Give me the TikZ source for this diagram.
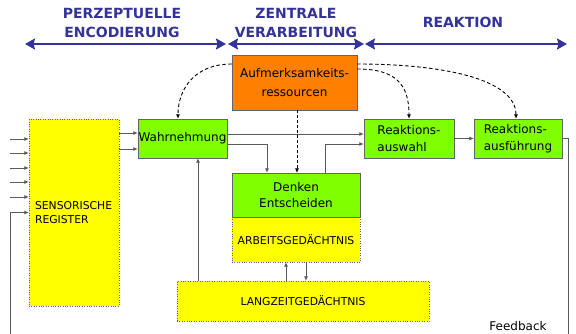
\documentclass[tikz,border=0pt]{standalone}
\usepackage{fontspec}
\setmainfont{DejaVu Sans}
\usetikzlibrary{arrows.meta}
\definecolor{hdrblue}{RGB}{51,51,153}
\definecolor{boxyellow}{RGB}{255,255,0}
\definecolor{boxgreen}{RGB}{128,255,0}
\definecolor{boxorange}{RGB}{255,128,0}
\definecolor{wire}{RGB}{90,90,90}
\definecolor{rim}{RGB}{100,100,100}
\tikzset{
  hdrtext/.style={text=hdrblue, font=\fontsize{14}{19}\selectfont\bfseries, align=center, inner sep=0},
  hdrarrow/.style={draw=hdrblue, line width=2.8pt, {Stealth[length=10pt,width=11pt,inset=1.5pt]}-{Stealth[length=10pt,width=11pt,inset=1.5pt]}},
  memorybox/.style={draw=rim, dotted, fill=boxyellow, inner sep=0, font=\fontsize{10.8}{13.5}\selectfont},
  stagebox/.style={draw=rim, fill=boxgreen, inner sep=0, font=\fontsize{12}{16.5}\selectfont, align=center},
  resbox/.style={draw=rim, fill=boxorange, inner sep=0, font=\fontsize{12}{19}\selectfont, align=center},
  wireline/.style={draw=wire, line width=0.8pt},
  wirearrow/.style={wireline, -{Latex[length=4.5pt,width=4pt]}},
  ctrlarrow/.style={draw=black, line width=0.9pt, dash pattern=on 3.5pt off 2.5pt, -{Latex[length=4.5pt,width=4pt]}}
}
\begin{document}
\begin{tikzpicture}[x=1pt, y=-1pt]
\useasboundingbox (0,0) rectangle (576,334);

% phase headers
\node[hdrtext] (hdrA) at (122,22.5) {PERZEPTUELLE\\ENCODIERUNG};
\node[hdrtext] (hdrB) at (296,22.5) {ZENTRALE\\VERARBEITUNG};
\node[hdrtext] (hdrC) at (463,22.5) {REAKTION};
\coordinate (pA1) at (25,44);  \coordinate (pA2) at (226,44);
\coordinate (pB1) at (228,44); \coordinate (pB2) at (364,44);
\coordinate (pC1) at (365,44); \coordinate (pC2) at (567,44);
\draw[hdrarrow] (pA1) -- (pA2);
\draw[hdrarrow] (pB1) -- (pB2);
\draw[hdrarrow] (pC1) -- (pC2);

% memory stores
\node[memorybox, minimum width=90pt, minimum height=187pt, text width=78pt, align=left] (sens) at (74,212.5) {SENSORISCHE\\REGISTER};
\node[memorybox, minimum width=128pt, minimum height=89pt] (arbeitbg) at (296,217.5) {};
\node[memorybox, draw=none, fill=none, minimum width=128pt, minimum height=45pt] (arbeit) at (296,239.5) {ARBEITSGEDÄCHTNIS};
\node[memorybox, minimum width=252pt, minimum height=40pt] (lang) at (303,301) {LANGZEITGEDÄCHTNIS};

% processing stages
\node[stagebox, minimum width=89pt, minimum height=39pt] (wahr) at (182.5,138.5) {Wahrnehmung};
\node[stagebox, minimum width=128pt, minimum height=44pt] (denk) at (296,195) {Denken\\Entscheiden};
\node[stagebox, minimum width=90pt, minimum height=39pt, align=left] (ausw) at (409,138.5) {Reaktions-\\auswahl};
\node[stagebox, minimum width=88pt, minimum height=39pt, align=left] (ausf) at (518,138.5) {Reaktions-\\ausführung};
\node[resbox, minimum width=125pt, minimum height=55pt] (aufm) at (294.5,82.5) {Aufmerksamkeits-\\ressourcen};

\node[inner sep=0, font=\fontsize{12}{14}\selectfont] (fbtext) at (518,326) {Feedback};

% sensory inputs
\foreach \yy [count=\i] in {139,153,168,182,197} {
  \coordinate (in\i) at (10,\yy);
  \draw[wirearrow] (in\i) -- (in\i -| sens.west);
}

% feedback loop
\coordinate (fbR) at (568,334);
\coordinate (fbL) at (10,334);
\draw[wireline] (ausf.east) -| (fbR);
\draw[wirearrow] (fbL) |- (sens.west);

% sensory register to perception
\coordinate (w1) at ([yshift=5.5pt]wahr.west);
\coordinate (w2) at ([yshift=-10.5pt]wahr.west);
\draw[wirearrow] (sens.east |- w1) -- (w1);
\draw[wirearrow] (sens.east |- w2) -- (w2);

% perception onwards
\draw[wirearrow] ([yshift=4.5pt]wahr.east) -- ([yshift=4.5pt]ausw.west);
\draw[wirearrow] ([yshift=-5.5pt]wahr.east) -| ([xshift=-29pt]denk.north);
\draw[wirearrow] ([xshift=29pt]denk.north) |- ([yshift=-5.5pt]ausw.west);
\draw[wirearrow] (ausw.east) -- (ausf.west);

% long-term memory links
\coordinate (w3) at ([xshift=15.5pt]wahr.south);
\draw[wirearrow] (w3 |- lang.north) -- (w3);
\coordinate (a1) at ([xshift=-10pt]arbeitbg.south);
\coordinate (a2) at ([xshift=10pt]arbeitbg.south);
\draw[wirearrow] (a1 |- lang.north) -- (a1);
\draw[wirearrow] (a2) -- (a2 |- lang.north);

% attention resources
\draw[ctrlarrow, line width=0.6pt, dash pattern=on 3pt off 2pt] ([xshift=2.5pt]aufm.south) -- ([xshift=1pt]denk.north);
\draw[ctrlarrow] ([yshift=18.5pt]aufm.west) .. controls +(-37,0) and +(0,-30) .. ([xshift=-4.5pt]wahr.north);
\draw[ctrlarrow] ([yshift=13.5pt]aufm.east) .. controls +(38,0) and +(0,-35) .. (ausw.north);
\draw[ctrlarrow] ([yshift=18.5pt]aufm.east) .. controls +(85,0) and +(0,-40) .. ([xshift=-2pt]ausf.north);
\end{tikzpicture}
\end{document}
